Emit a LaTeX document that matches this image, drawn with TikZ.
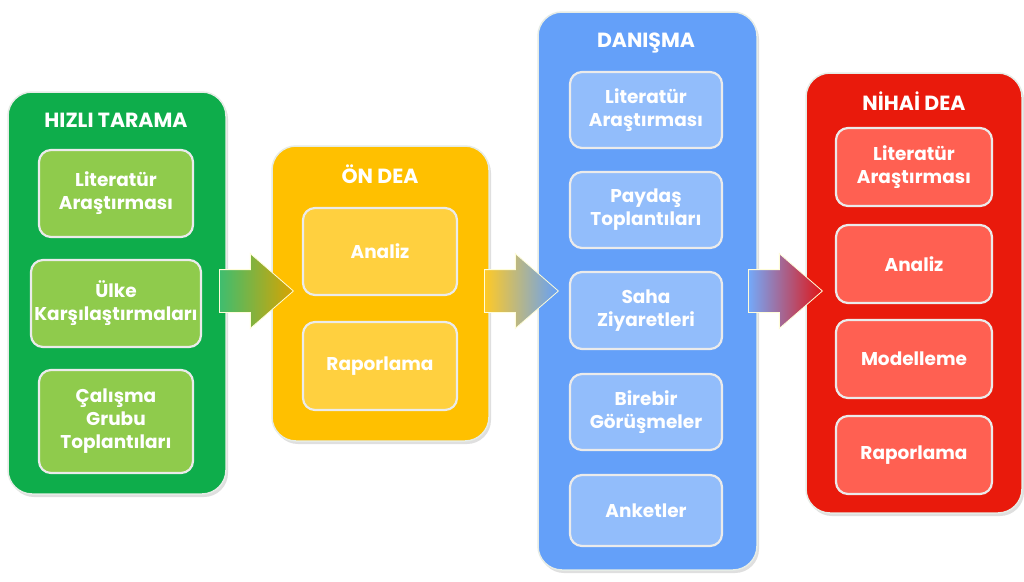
\documentclass[tikz,border=0pt]{standalone}
\usepackage{fontspec}
\setmainfont{Poppins}
\usetikzlibrary{shapes.arrows,shadows}
\definecolor{gOut}{HTML}{0EAD4B}
\definecolor{gIn}{HTML}{8FCB4C}
\definecolor{yOut}{HTML}{FFC000}
\definecolor{yIn}{HTML}{FFD03F}
\definecolor{bOut}{HTML}{64A0F9}
\definecolor{bIn}{HTML}{92BDFB}
\definecolor{rOut}{HTML}{E91A0C}
\definecolor{rIn}{HTML}{FF6052}
\definecolor{rimline}{HTML}{E6ECE6}
\tikzset{
  outerbox/.style={rounded corners=24pt, draw=rimline, line width=1.5pt,
    drop shadow={shadow xshift=2pt, shadow yshift=-3pt, opacity=0.25}},
  innerbox/.style={rounded corners=12pt, draw=white!92!black, line width=2.2pt,
    text=white, align=center, font=\fontsize{18.5}{23}\selectfont\bfseries},
  titletext/.style={text=white, font=\fontsize{20.5}{24}\selectfont\bfseries},
  blockarrow/.style={single arrow, single arrow head extend=16pt, single arrow tip angle=82,
    minimum height=74pt, inner xsep=0pt, inner ysep=21pt, draw=white!85!yellow, line width=0.8pt,
    anchor=tail},
}
\begin{document}
\begin{tikzpicture}[x=1pt,y=-1pt]
\useasboundingbox (0,0) rectangle (1024,581);
\fill[white] (0,0) rectangle (1024,581);
% outer boxes
\node[outerbox, fill=gOut, minimum width=218pt, minimum height=402pt] (g) at (117,293) {};
\node[outerbox, fill=yOut, minimum width=217pt, minimum height=295pt] (y) at (380.5,293.5) {};
\node[outerbox, fill=bOut, minimum width=219pt, minimum height=558pt] (b) at (647.5,291) {};
\node[outerbox, fill=rOut, minimum width=216pt, minimum height=440pt] (r) at (914,293) {};
% titles
\node[titletext] (gt) at (116,120) {HIZLI TARAMA};
\node[titletext] (yt) at (380,174) {ÖN DEA};
\node[titletext] (bt) at (646,43) {DANIŞMA};
\node[titletext] (rt) at (914,101) {NİHAİ DEA};
% green inner
\node[innerbox, fill=gIn, minimum width=154pt, minimum height=87pt] (g1) at (116,193.5) {Literatür\\Araştırması};
\node[innerbox, fill=gIn, minimum width=154pt, minimum height=87pt] (g2) at (116,303.5) {Ülke\\Karşılaştırmaları};
\node[innerbox, fill=gIn, minimum width=154pt, minimum height=103pt] (g3) at (116,421.5) {Çalışma\\Grubu\\Toplantıları};
% yellow inner
\node[innerbox, fill=yIn, minimum width=154pt, minimum height=87pt] (y1) at (380,251.5) {Analiz};
\node[innerbox, fill=yIn, minimum width=154pt, minimum height=88pt] (y2) at (380,366) {Raporlama};
% blue inner
\node[innerbox, fill=bIn, minimum width=152pt, minimum height=76pt] (b1) at (646,110) {Literatür\\Araştırması};
\node[innerbox, fill=bIn, minimum width=152pt, minimum height=76pt] (b2) at (646,210) {Paydaş\\Toplantıları};
\node[innerbox, fill=bIn, minimum width=152pt, minimum height=77pt] (b3) at (646,310.5) {Saha\\Ziyaretleri};
\node[innerbox, fill=bIn, minimum width=152pt, minimum height=76pt] (b4) at (646,412) {Birebir\\Görüşmeler};
\node[innerbox, fill=bIn, minimum width=152pt, minimum height=71pt] (b5) at (646,510.5) {Anketler};
% red inner
\node[innerbox, fill=rIn, minimum width=156pt, minimum height=78pt] (r1) at (914,167) {Literatür\\Araştırması};
\node[innerbox, fill=rIn, minimum width=156pt, minimum height=78pt] (r2) at (914,264) {Analiz};
\node[innerbox, fill=rIn, minimum width=156pt, minimum height=78pt] (r3) at (914,359) {Modelleme};
\node[innerbox, fill=rIn, minimum width=156pt, minimum height=78pt] (r4) at (914,455) {Raporlama};
% arrows
\node[blockarrow, left color=gOut!80!white, right color=yOut!85!black] (a1) at (219,291) {};
\node[blockarrow, left color=yOut!85!white, right color=bOut] (a2) at (484,291) {};
\node[blockarrow, left color=bOut!90!white, right color=rOut!80!purple] (a3) at (748,291) {};
\end{tikzpicture}
\end{document}
